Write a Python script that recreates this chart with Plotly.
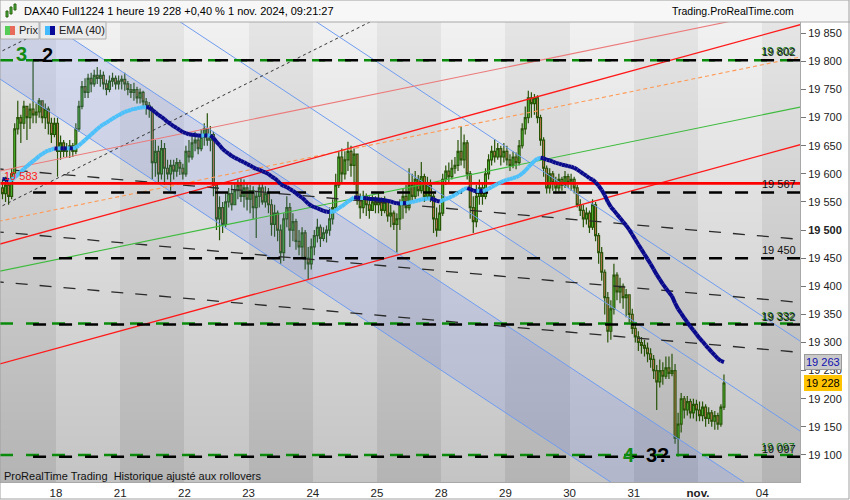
import numpy as np
import plotly.graph_objects as go

# ---------------- axes ----------------
DAY_TICKS = list(range(12))
DAY_TICK_LABELS = ["18", "21", "22", "23", "24", "25", "28", "29", "30", "31", "<b>nov.</b>", "04"]
X_RANGE = [-0.872, 11.589]
Y_RANGE = [19051.9, 19870.1]
PRICE_TICKS = list(range(19100, 19851, 50))

SLOTS_PER_DAY = 21
DAY_INDEX = [-1, 0, 1, 2, 3, 4, 5, 6, 7, 8, 9, 10]     # 17 oct .. 1 nov
FIRST_SLOT = [3, 0, 0, 0, 0, 0, 0, 0, 0, 0, 0, 0]
FIRST_OPEN = 19575

# ---------------- hourly candles ----------------
CLOSE = [
    # 17
    [19565, 19580, 19560, 19600, 19680, 19700, 19690, 19720, 19700, 19715, 19705, 19710, 19730, 19700, 19715, 19690, 19670, 19690],
    # 18
    [19640, 19655, 19640, 19645, 19650, 19640, 19680, 19720, 19755, 19745, 19770, 19760, 19775, 19770, 19775, 19760, 19750, 19765, 19770, 19760, 19765],
    # 21
    [19768, 19760, 19750, 19745, 19750, 19735, 19745, 19728, 19722, 19715, 19620, 19640, 19600, 19645, 19610, 19600, 19615, 19605, 19620, 19610, 19600],
    # 22
    [19640, 19630, 19655, 19660, 19645, 19665, 19680, 19660, 19670, 19580, 19520, 19540, 19510, 19550, 19565, 19545, 19570, 19580, 19560, 19575, 19555],
    # 23
    [19570, 19540, 19560, 19575, 19550, 19565, 19545, 19510, 19530, 19500, 19460, 19520, 19540, 19500, 19515, 19480, 19470, 19495, 19450, 19440, 19470],
    # 24
    [19490, 19505, 19485, 19495, 19500, 19520, 19540, 19580, 19630, 19600, 19625, 19640, 19615, 19635, 19555, 19540, 19560, 19545, 19535, 19550, 19545],
    # 25
    [19550, 19535, 19550, 19525, 19530, 19510, 19520, 19545, 19560, 19540, 19580, 19560, 19590, 19570, 19595, 19560, 19580, 19560, 19520, 19500, 19530],
    # 28
    [19590, 19605, 19595, 19610, 19615, 19640, 19625, 19655, 19600, 19540, 19515, 19560, 19575, 19560, 19600, 19625, 19640, 19630, 19645, 19630, 19640],
    # 29
    [19625, 19615, 19630, 19620, 19650, 19680, 19700, 19735, 19725, 19735, 19700, 19660, 19610, 19575, 19600, 19585, 19575, 19590, 19580, 19595, 19585],
    # 30
    [19590, 19575, 19545, 19535, 19520, 19530, 19505, 19545, 19490, 19460, 19425, 19380, 19320, 19360, 19420, 19390, 19400, 19380, 19385, 19350, 19325],
    # 31
    [19310, 19300, 19295, 19290, 19280, 19270, 19250, 19230, 19250, 19240, 19255, 19245, 19250, 19130, 19155, 19200, 19180, 19195, 19175, 19190, 19180],
    # 1 nov
    [19170, 19185, 19165, 19175, 19160, 19170, 19155, 19185, 19228],
]
HIGH = [
    [19590, 19595, 19585, 19610, 19690, 19730, 19705, 19730, 19720, 19725, 19802, 19725, 19735, 19730, 19725, 19720, 19700, 19700],
    [19700, 19668, 19660, 19655, 19660, 19655, 19690, 19730, 19765, 19770, 19778, 19780, 19785, 19790, 19785, 19782, 19768, 19775, 19780, 19775, 19775],
    [19775, 19780, 19765, 19760, 19762, 19755, 19752, 19748, 19735, 19728, 19720, 19660, 19650, 19660, 19655, 19625, 19625, 19625, 19628, 19625, 19618],
    [19650, 19660, 19670, 19675, 19670, 19680, 19690, 19708, 19685, 19675, 19585, 19560, 19550, 19565, 19575, 19580, 19585, 19590, 19592, 19590, 19585],
    [19580, 19578, 19570, 19585, 19582, 19578, 19575, 19555, 19545, 19535, 19510, 19530, 19560, 19548, 19530, 19520, 19500, 19505, 19500, 19470, 19485],
    [19500, 19520, 19510, 19505, 19508, 19540, 19555, 19600, 19640, 19645, 19640, 19657, 19650, 19645, 19635, 19565, 19570, 19565, 19560, 19562, 19560],
    [19565, 19558, 19560, 19555, 19545, 19535, 19530, 19555, 19575, 19580, 19610, 19600, 19605, 19598, 19621, 19600, 19595, 19590, 19565, 19540, 19545],
    [19600, 19615, 19620, 19625, 19630, 19660, 19684, 19670, 19660, 19605, 19560, 19580, 19590, 19585, 19610, 19635, 19650, 19662, 19655, 19650, 19655],
    [19650, 19635, 19640, 19638, 19660, 19690, 19720, 19748, 19745, 19742, 19740, 19705, 19665, 19615, 19610, 19605, 19595, 19600, 19595, 19605, 19600],
    [19600, 19595, 19580, 19555, 19545, 19540, 19535, 19555, 19550, 19495, 19470, 19430, 19390, 19375, 19440, 19425, 19415, 19405, 19395, 19385, 19360],
    [19335, 19320, 19310, 19305, 19300, 19290, 19278, 19260, 19270, 19265, 19275, 19275, 19280, 19262, 19175, 19210, 19205, 19205, 19200, 19200, 19198],
    [19195, 19195, 19190, 19185, 19180, 19178, 19175, 19190, 19243],
]
LOW = [
    [19555, 19550, 19545, 19555, 19600, 19670, 19655, 19680, 19660, 19680, 19690, 19690, 19700, 19690, 19680, 19670, 19655, 19665],
    [19595, 19625, 19630, 19630, 19628, 19630, 19635, 19675, 19715, 19735, 19735, 19745, 19755, 19760, 19755, 19750, 19740, 19745, 19755, 19750, 19750],
    [19750, 19748, 19740, 19735, 19730, 19725, 19725, 19718, 19705, 19700, 19590, 19595, 19585, 19590, 19580, 19590, 19570, 19590, 19595, 19598, 19590],
    [19595, 19620, 19625, 19640, 19635, 19640, 19650, 19650, 19640, 19560, 19500, 19482, 19495, 19505, 19540, 19535, 19545, 19555, 19550, 19540, 19535],
    [19530, 19520, 19486, 19540, 19545, 19540, 19530, 19490, 19488, 19480, 19440, 19445, 19505, 19470, 19480, 19465, 19455, 19450, 19430, 19412, 19430],
    [19455, 19478, 19470, 19480, 19478, 19490, 19510, 19535, 19575, 19585, 19590, 19605, 19595, 19580, 19545, 19520, 19530, 19525, 19520, 19535, 19530],
    [19530, 19525, 19530, 19515, 19505, 19500, 19460, 19500, 19520, 19530, 19535, 19550, 19555, 19560, 19565, 19550, 19555, 19550, 19495, 19488, 19500],
    [19525, 19580, 19585, 19590, 19600, 19605, 19615, 19610, 19590, 19520, 19495, 19505, 19545, 19545, 19555, 19590, 19615, 19620, 19625, 19615, 19620],
    [19615, 19605, 19610, 19608, 19615, 19645, 19670, 19690, 19700, 19705, 19690, 19650, 19595, 19565, 19565, 19570, 19565, 19568, 19570, 19575, 19575],
    [19570, 19565, 19540, 19525, 19505, 19510, 19495, 19500, 19480, 19440, 19410, 19350, 19300, 19305, 19350, 19375, 19370, 19360, 19345, 19335, 19315],
    [19300, 19285, 19280, 19275, 19265, 19255, 19235, 19180, 19220, 19225, 19235, 19235, 19240, 19120, 19097, 19140, 19165, 19170, 19165, 19165, 19160],
    [19160, 19160, 19150, 19155, 19150, 19145, 19145, 19150, 19180],
]

EMA_PERIOD = 40
EMA_SEED = 19592          # EMA value at the left edge of the chart

# ---------------- drawn objects (day, price, day, price) ----------------
BLUE_CHANNEL = [(-1, 19778.3, 12, 18798.5), (-1, 19934.8, 12, 18955.0),
                (-1, 20091.4, 12, 19111.6), (-1, 20251.5, 12, 19271.7)]
RED_LINES = [(-1, 19471.3, 12, 19878.1), (-1, 19257.9, 12, 19664.7)]
PINK_LINE = (-1, 19602.1, 12, 19906.4)
ORANGE_LINE = (-1, 19513.1, 12, 19817.4)
GREEN_LINE = (-1, 19424.0, 12, 19728.3)
GREY_DASHED = [(-1, 19609.9, 12, 19479.3), (-1, 19497.8, 12, 19367.2), (-1, 19408.9, 12, 19278.3)]
DOTTED = [(-1, 19533.8, 12, 20276.1), (-1, 19809.4, 12, 20551.7)]

RED_LEVEL = 19583
BLACK_LEVELS = [19802, 19567, 19450, 19332, 19097]
BLACK_LEVEL_START = -0.357
GREEN_LEVELS = [19802, 19334, 19100]
LEVEL_LABELS = ["19 802", "19 567", "19 450", "19 332", "19 097"]
GREEN_LABELS = [("19 802", 19802), ("19 332", 19332), ("19 097", 19099)]

WAVE_MARKS = [("3", -0.53, 19813, "#138a13"), ("2", -0.125, 19811, "#000000"),
              ("4", 8.925, 19100, "#138a13"), ("3?", 9.377, 19100, "#000000")]

LAST_EMA_LABEL = "19 263"
LAST_PRICE_LABEL = "19 228"

# ---------------- build candle arrays ----------------
xs, o, h, l, c = [], [], [], [], []
prev = FIRST_OPEN
for di, d in enumerate(DAY_INDEX):
    for k, cl in enumerate(CLOSE[di]):
        slot = FIRST_SLOT[di] + k
        xs.append(d + (slot + 0.5) / SLOTS_PER_DAY)
        op = prev
        o.append(op)
        c.append(cl)
        h.append(max(HIGH[di][k], op, cl))
        l.append(min(LOW[di][k], op, cl))
        prev = cl

# EMA(40)
alpha = 2.0 / (EMA_PERIOD + 1)
ema = []
e = EMA_SEED
for cl in c:
    e = e + alpha * (cl - e)
    ema.append(e)

fig = go.Figure()

# ---------------- background (alternating day bands with vertical gradient) ----------------
band_edges = [X_RANGE[0]] + list(range(0, 12)) + [X_RANGE[1]]
band_ids = list(range(-1, 12))
ny = 230
y_edges = np.linspace(Y_RANGE[0], Y_RANGE[1], ny + 1)
yc = (y_edges[:-1] + y_edges[1:]) / 2
t = (yc - Y_RANGE[0]) / (Y_RANGE[1] - Y_RANGE[0])
z = []
for tt in t:
    row = []
    for n in band_ids:
        if n % 2 == 0:
            row.append(196 + tt * (241 - 196))
        else:
            row.append(180 + tt * (229 - 180))
    z.append(row)
fig.add_trace(go.Heatmap(x=band_edges, y=y_edges, z=z, zmin=0, zmax=255,
                         colorscale=[[0, "rgb(0,0,0)"], [1, "rgb(255,255,255)"]],
                         showscale=False, hoverinfo="skip"))

# blue channel shading
A, B = BLUE_CHANNEL[0], BLUE_CHANNEL[1]
fig.add_trace(go.Scatter(x=[A[0], A[2], B[2], B[0], A[0]], y=[A[1], A[3], B[3], B[1], A[1]],
                         mode="lines", fill="toself", fillcolor="rgba(90,120,235,0.17)",
                         line=dict(width=0), hoverinfo="skip"))


def seg(line, color, width, dash="solid"):
    fig.add_trace(go.Scatter(x=[line[0], line[2]], y=[line[1], line[3]], mode="lines",
                             line=dict(color=color, width=width, dash=dash), hoverinfo="skip"))


for bl in BLUE_CHANNEL:
    seg(bl, "#6f9cf0", 1)
for gl in GREY_DASHED:
    seg(gl, "#2a2a2a", 1.3, "12px,12px")
for dl in DOTTED:
    seg(dl, "#333333", 1, "3px,3px")
seg(PINK_LINE, "#ec7a7a", 1.1)
seg(ORANGE_LINE, "#ff9a55", 1.1, "4px,3px")
seg(GREEN_LINE, "#3dbb3d", 1.1)
for rl in RED_LINES:
    seg(rl, "#ff1a1a", 1.3)

# ---------------- candles ----------------
fig.add_trace(go.Candlestick(
    x=xs, open=o, high=h, low=l, close=c,
    increasing=dict(line=dict(color="#285408", width=1.2), fillcolor="#55d83c"),
    decreasing=dict(line=dict(color="#285408", width=1.2), fillcolor="#ee8068"),
    whiskerwidth=0, hoverinfo="skip"))

# ---------------- horizontal levels ----------------
for lv in GREEN_LEVELS:
    fig.add_trace(go.Scatter(x=[X_RANGE[0], 12], y=[lv, lv], mode="lines",
                             line=dict(color="#0a8a0a", width=2.5, dash="13px,13px"), hoverinfo="skip"))
for lv in BLACK_LEVELS:
    fig.add_trace(go.Scatter(x=[BLACK_LEVEL_START, 12], y=[lv, lv], mode="lines",
                             line=dict(color="#000000", width=2.5, dash="13px,13px"), hoverinfo="skip"))
fig.add_trace(go.Scatter(x=[X_RANGE[0] - 1, 12], y=[RED_LEVEL, RED_LEVEL], mode="lines",
                         line=dict(color="#ff0000", width=2.6), hoverinfo="skip"))

# ---------------- EMA coloured by direction ----------------
up_x, up_y, dn_x, dn_y = [], [], [], []
for i in range(1, len(ema)):
    if ema[i] >= ema[i - 1]:
        up_x += [xs[i - 1], xs[i], None]
        up_y += [ema[i - 1], ema[i], None]
    else:
        dn_x += [xs[i - 1], xs[i], None]
        dn_y += [ema[i - 1], ema[i], None]
fig.add_trace(go.Scatter(x=up_x, y=up_y, mode="lines", line=dict(color="#4cc0fa", width=4), hoverinfo="skip"))
fig.add_trace(go.Scatter(x=dn_x, y=dn_y, mode="lines", line=dict(color="#0a0a8c", width=4), hoverinfo="skip"))

# ---------------- annotations ----------------
ann = []
for txt, lv in GREEN_LABELS:
    ann.append(dict(x=0.997, xref="paper", y=lv, yref="y", text=txt, showarrow=False,
                    xanchor="right", yanchor="bottom", xshift=-1, yshift=1,
                    font=dict(size=11, color="#0a7a0a")))
for txt, lv in zip(LEVEL_LABELS, BLACK_LEVELS):
    ann.append(dict(x=0.997, xref="paper", y=lv, yref="y", text=txt, showarrow=False,
                    xanchor="right", yanchor="bottom", font=dict(size=11, color="#111111")))
ann.append(dict(x=0.002, xref="paper", y=RED_LEVEL, yref="y", text=f"{RED_LEVEL // 1000} {RED_LEVEL % 1000:03d}",
                showarrow=False, xanchor="left", yanchor="bottom", yshift=-1,
                font=dict(size=11, color="#ff2020")))
for txt, xd, yv, col in WAVE_MARKS:
    ann.append(dict(x=xd, y=yv, xref="x", yref="y", text=f"<b>{txt}</b>", showarrow=False,
                    font=dict(size=20, color=col, family="Liberation Sans, Arial")))
# axis price boxes
ann.append(dict(x=1.0, xref="paper", y=ema[-1], yref="y", text=LAST_EMA_LABEL, showarrow=False,
                xanchor="left", xshift=4, bgcolor="#c9c9c9", bordercolor="#9a9a9a", borderwidth=1, borderpad=1,
                font=dict(size=11, color="#1010b0")))
ann.append(dict(x=1.0, xref="paper", y=c[-1], yref="y", text=LAST_PRICE_LABEL, showarrow=False,
                xanchor="left", xshift=4, bgcolor="#ffc300", bordercolor="#ffc300", borderwidth=1, borderpad=1,
                font=dict(size=11, color="#000000")))
# header texts
ann.append(dict(x=22 / 800, xref="paper", y=1 + 11 / 460, yref="paper",
                text="DAX40 Full1224 1 heure 19 228 +0,40 % 1 nov. 2024, 09:21:27", showarrow=False,
                xanchor="left", yanchor="middle", font=dict(size=11, color="#000000")))
ann.append(dict(x=796 / 800, xref="paper", y=1 + 11 / 460, yref="paper",
                text="Trading.ProRealTime.com", showarrow=False,
                xanchor="right", yanchor="middle", font=dict(size=10.5, color="#000000")))
ann.append(dict(x=17 / 800, xref="paper", y=1 - 8.5 / 460, yref="paper", text="Prix", showarrow=False,
                xanchor="left", yanchor="middle", font=dict(size=11, color="#222")))
ann.append(dict(x=57 / 800, xref="paper", y=1 - 8.5 / 460, yref="paper", text="EMA (40)", showarrow=False,
                xanchor="left", yanchor="middle", font=dict(size=11, color="#222")))
ann.append(dict(x=2 / 800, xref="paper", y=1 - (476 - 22) / 460, yref="paper",
                text="ProRealTime Trading  Historique ajusté aux rollovers", showarrow=False,
                xanchor="left", yanchor="middle", font=dict(size=11, color="#111")))


def px(xp):
    return xp / 800


def py(yp):
    return 1 - (yp - 22) / 460


shapes = [
    dict(type="rect", xref="paper", yref="paper", x0=0, x1=1.0625, y0=1, y1=py(0), fillcolor="#f7f7f7",
         line=dict(width=0), layer="above"),
    dict(type="line", xref="paper", yref="paper", x0=0, x1=1.0625, y0=1, y1=1, line=dict(color="#a8a8a8", width=1),
         layer="above"),
    # legend boxes
    dict(type="rect", xref="paper", yref="paper", x0=px(0.5), x1=px(39), y0=py(22), y1=py(39),
         fillcolor="#ececec", line=dict(color="#b0b0b0", width=1), layer="above"),
    dict(type="rect", xref="paper", yref="paper", x0=px(40), x1=px(106), y0=py(22), y1=py(39),
         fillcolor="#ececec", line=dict(color="#b0b0b0", width=1), layer="above"),
    dict(type="rect", xref="paper", yref="paper", x0=px(5), x1=px(10), y0=py(26), y1=py(35),
         fillcolor="#55cc55", line=dict(width=0), layer="above"),
    dict(type="rect", xref="paper", yref="paper", x0=px(10), x1=px(15), y0=py(26), y1=py(35),
         fillcolor="#e86a5a", line=dict(width=0), layer="above"),
    dict(type="rect", xref="paper", yref="paper", x0=px(45), x1=px(50), y0=py(26), y1=py(35),
         fillcolor="#44bbff", line=dict(width=0), layer="above"),
    dict(type="rect", xref="paper", yref="paper", x0=px(50), x1=px(55), y0=py(26), y1=py(35),
         fillcolor="#0a0a9a", line=dict(width=0), layer="above"),
    # title icon
    dict(type="rect", xref="paper", yref="paper", x0=px(6), x1=px(8), y0=py(11), y1=py(17),
         fillcolor="#44bb44", line=dict(color="#2c5e0c", width=1), layer="above"),
    dict(type="rect", xref="paper", yref="paper", x0=px(10), x1=px(12), y0=py(7), y1=py(14),
         fillcolor="#44bb44", line=dict(color="#2c5e0c", width=1), layer="above"),
    dict(type="rect", xref="paper", yref="paper", x0=px(14), x1=px(16), y0=py(4), y1=py(10),
         fillcolor="#44bb44", line=dict(color="#2c5e0c", width=1), layer="above"),
    # outer frame
    dict(type="rect", xref="paper", yref="paper", x0=px(0), x1=px(849), y0=py(0), y1=py(499),
         fillcolor="rgba(0,0,0,0)", line=dict(color="#a0a0a0", width=1), layer="above"),
]

ytext = [f"{v // 1000} {v % 1000:03d}" for v in PRICE_TICKS]
ytext = [f"<b>{t_}</b>" if v == 19500 else t_ for t_, v in zip(ytext, PRICE_TICKS)]

fig.update_layout(
    width=850, height=500,
    margin=dict(l=0, r=50, t=22, b=18, pad=0),
    paper_bgcolor="white", plot_bgcolor="#d0d0d0",
    showlegend=False, boxgap=0.12,
    font=dict(family="Liberation Sans, Arial, sans-serif", size=11, color="#222"),
    annotations=ann, shapes=shapes,
    hovermode=False,
)
fig.update_xaxes(range=X_RANGE, tickvals=DAY_TICKS, ticktext=DAY_TICK_LABELS, showgrid=False, zeroline=False,
                 showline=True, linecolor="#a8a8a8", ticks="", rangeslider_visible=False,
                 tickfont=dict(size=11.5, color="#222"))
fig.update_yaxes(side="right", range=Y_RANGE, tickvals=PRICE_TICKS, ticktext=ytext, showgrid=False,
                 zeroline=False, showline=True, linecolor="#a8a8a8", ticks="outside", ticklen=5,
                 tickcolor="#777", tickfont=dict(size=11, color="#222"))

fig.write_html("out.html", config={"displayModeBar": False},
               post_script="document.body.style.margin='0px';document.body.style.overflow='hidden';")
